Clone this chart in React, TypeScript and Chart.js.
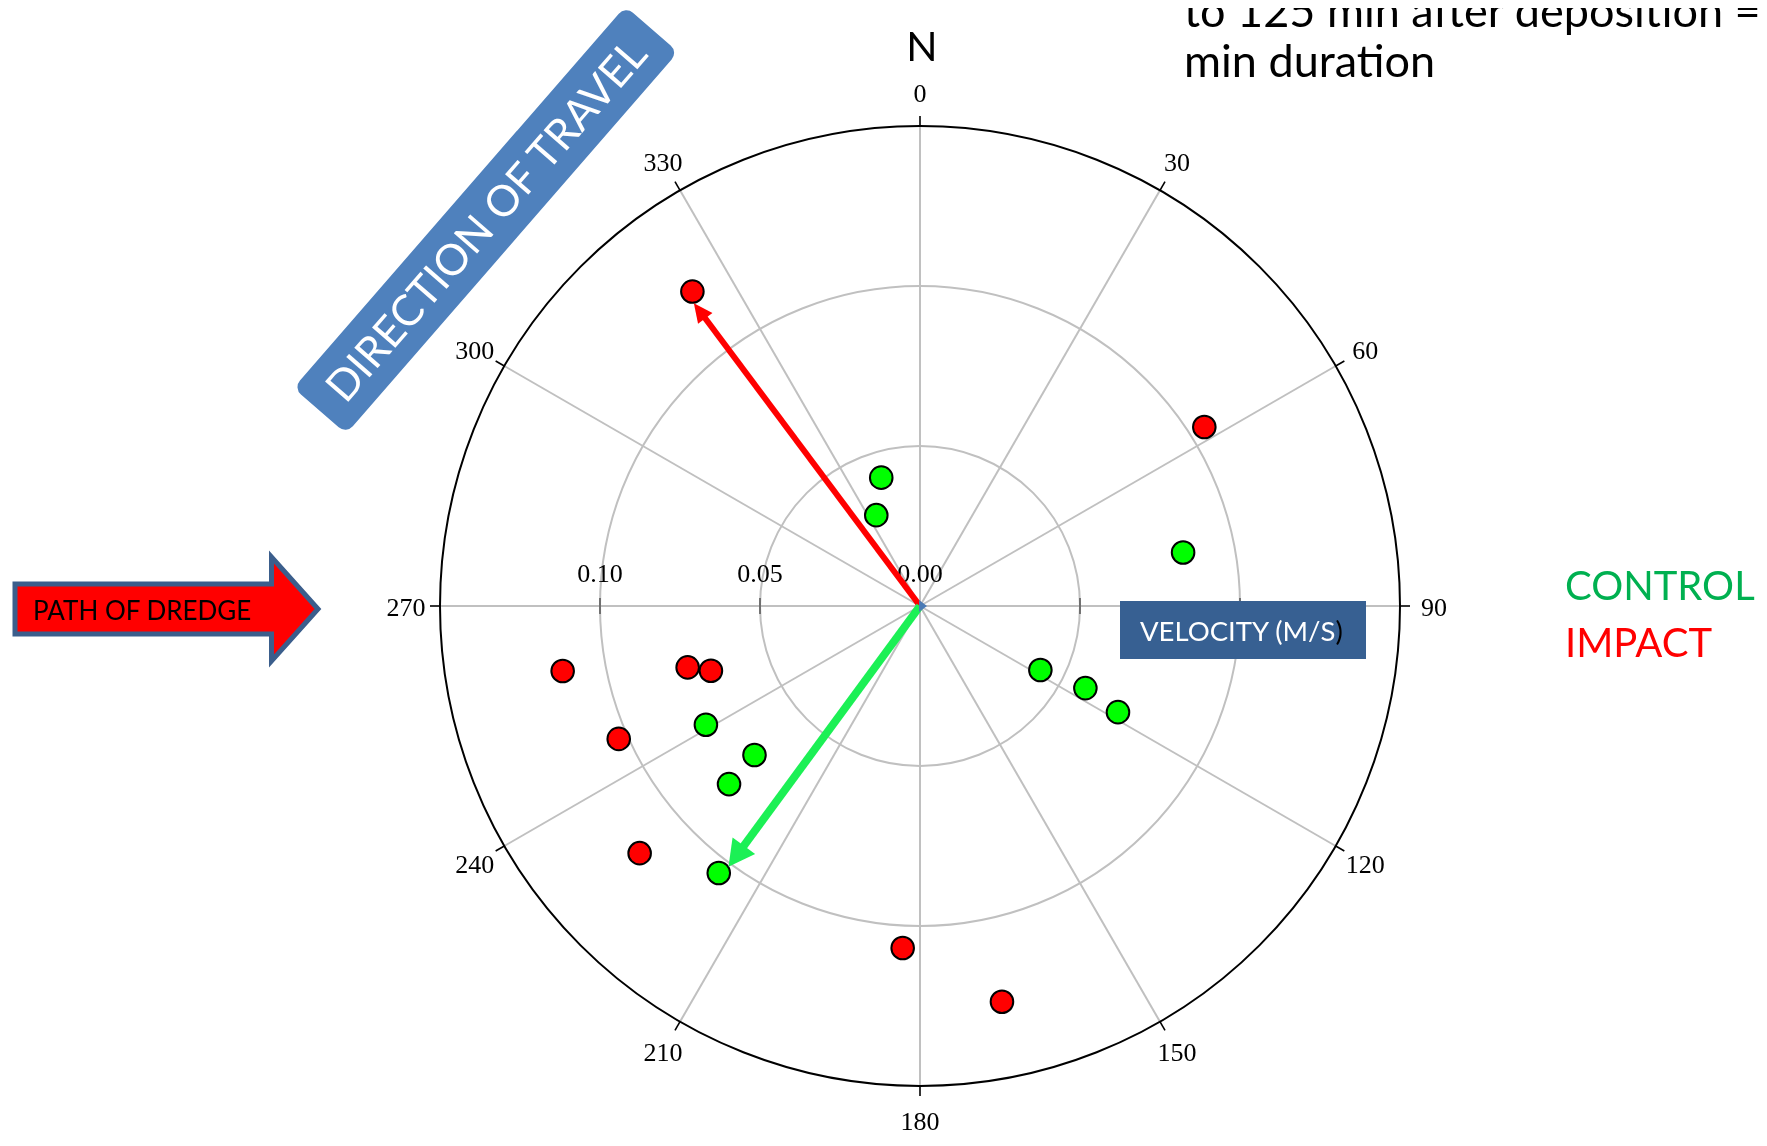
import React, { useEffect, useRef } from "react";
import { Chart, registerables } from "chart.js";

Chart.register(...registerables);

// ---- data (compass direction in degrees, speed in m/s) ----
const angleTicks = [0, 30, 60, 90, 120, 150, 180, 210, 240, 270, 300, 330];
const radialTicks = [0.0, 0.05, 0.1];
const radialRings = [0.05, 0.1];
const radialMax = 0.15;

const controlDirection = [241, 228, 227, 217, 78.5, 118, 116.4, 118.2, 343.2, 334.3];
const controlSpeed = [0.0765, 0.0696, 0.0816, 0.1045, 0.0839, 0.0426, 0.0577, 0.0702, 0.0419, 0.0315];

const impactDirection = [259.7, 255.2, 252.8, 246.2, 228.6, 57.8, 182.9, 168.3, 324.1];
const impactSpeed = [0.1135, 0.0751, 0.0684, 0.1029, 0.1168, 0.105, 0.107, 0.1263, 0.1213];

// mean vectors: [impact, control]
const meanLabels = ["IMPACT", "CONTROL"];
const meanDirection = [323.25, 216.3];
const meanSpeed = [0.1181, 0.1011];

// ---- layout constants ----
const W = 1751;
const H = 1130;
const CX = 912; // canvas px of origin
const CY = 598;
const PX_PER_UNIT = 3200;

const toXY = (dirs: number[], speeds: number[]) =>
  dirs.map((d, i) => {
    const r = (d * Math.PI) / 180;
    return { x: speeds[i] * Math.sin(r), y: speeds[i] * Math.cos(r) };
  });

const polarGrid = {
  id: "polarGrid",
  beforeDatasetsDraw(chart: any) {
    const { ctx } = chart;
    const xs = chart.scales.x;
    const ys = chart.scales.y;
    const cx = xs.getPixelForValue(0);
    const cy = ys.getPixelForValue(0);
    const rx = (v: number) => xs.getPixelForValue(v) - cx;
    const ry = (v: number) => cy - ys.getPixelForValue(v);
    const Rx = rx(radialMax);
    const Ry = ry(radialMax);
    ctx.save();
    // spokes
    ctx.strokeStyle = "#c0c0c0";
    ctx.lineWidth = 2;
    angleTicks.forEach((a) => {
      const t = (a * Math.PI) / 180;
      ctx.beginPath();
      ctx.moveTo(cx, cy);
      ctx.lineTo(cx + Rx * Math.sin(t), cy - Ry * Math.cos(t));
      ctx.stroke();
    });
    // rings
    radialRings.forEach((v) => {
      ctx.beginPath();
      ctx.ellipse(cx, cy, rx(v), ry(v), 0, 0, Math.PI * 2);
      ctx.stroke();
    });
    // outer circle
    ctx.strokeStyle = "#000";
    ctx.lineWidth = 2;
    ctx.beginPath();
    ctx.ellipse(cx, cy, Rx, Ry, 0, 0, Math.PI * 2);
    ctx.stroke();
    // theta ticks (outward)
    ctx.lineWidth = 1.6;
    angleTicks.forEach((a) => {
      const t = (a * Math.PI) / 180;
      ctx.beginPath();
      ctx.moveTo(cx + Rx * Math.sin(t), cy - Ry * Math.cos(t));
      ctx.lineTo(cx + (Rx + 10) * Math.sin(t), cy - (Ry + 10) * Math.cos(t));
      ctx.stroke();
    });
    // radial ticks on horizontal axis
    ctx.strokeStyle = "#555";
    ctx.lineWidth = 1.5;
    radialRings.forEach((v) => {
      [-1, 1].forEach((s) => {
        const x = cx + s * rx(v);
        ctx.beginPath();
        ctx.moveTo(x, cy - 8);
        ctx.lineTo(x, cy + 8);
        ctx.stroke();
      });
    });
    // labels
    ctx.fillStyle = "#000";
    ctx.font = '26px "Liberation Serif", "DejaVu Serif", serif';
    ctx.textAlign = "center";
    ctx.textBaseline = "middle";
    angleTicks.forEach((a) => {
      const t = (a * Math.PI) / 180;
      ctx.fillText(String(a), cx + (Rx + 34) * Math.sin(t), cy - (Ry + 34) * Math.cos(t) + 3);
    });
    radialTicks.forEach((v) => {
      ctx.fillText(v.toFixed(2), cx - rx(v), cy - 31);
    });
    ctx.restore();
  },
};

const arrowStyle = [
  { color: "#ff0000", width: 6, headLen: 19, headHalf: 9 },
  { color: "#1cf055", width: 8, headLen: 26, headHalf: 14 },
];

const meanArrows = {
  id: "meanArrows",
  afterDatasetsDraw(chart: any) {
    const { ctx } = chart;
    const xs = chart.scales.x;
    const ys = chart.scales.y;
    const cx = xs.getPixelForValue(0);
    const cy = ys.getPixelForValue(0);
    ctx.save();
    meanLabels.forEach((_, i) => {
      const t = (meanDirection[i] * Math.PI) / 180;
      const ax = xs.getPixelForValue(meanSpeed[i] * Math.sin(t));
      const ay = ys.getPixelForValue(meanSpeed[i] * Math.cos(t));
      const st = arrowStyle[i];
      const len = Math.hypot(ax - cx, ay - cy);
      const ux = (ax - cx) / len;
      const uy = (ay - cy) / len;
      const bx = ax - ux * st.headLen;
      const by = ay - uy * st.headLen;
      ctx.strokeStyle = st.color;
      ctx.fillStyle = st.color;
      ctx.lineWidth = st.width;
      ctx.lineCap = "butt";
      ctx.beginPath();
      ctx.moveTo(cx, cy);
      ctx.lineTo(bx + ux * 2, by + uy * 2);
      ctx.stroke();
      ctx.beginPath();
      ctx.moveTo(ax, ay);
      ctx.lineTo(bx - uy * st.headHalf, by + ux * st.headHalf);
      ctx.lineTo(bx + uy * st.headHalf, by - ux * st.headHalf);
      ctx.closePath();
      ctx.fill();
    });
    // tiny zero-length quiver marker at origin
    ctx.fillStyle = "#4a7ab5";
    ctx.beginPath();
    ctx.moveTo(cx + 7, cy);
    ctx.lineTo(cx - 1, cy - 6);
    ctx.lineTo(cx - 1, cy + 6);
    ctx.closePath();
    ctx.fill();
    ctx.restore();
  },
};

export default function App() {
  const ref = useRef<HTMLCanvasElement | null>(null);

  useEffect(() => {
    if (!ref.current) return;
    const chart = new Chart(ref.current, {
      type: "scatter",
      data: {
        datasets: [
          {
            label: "CONTROL",
            data: toXY(controlDirection, controlSpeed),
            pointRadius: 11.3,
            pointBackgroundColor: "#00ff00",
            pointBorderColor: "#000000",
            pointBorderWidth: 2,
          },
          {
            label: "IMPACT",
            data: toXY(impactDirection, impactSpeed),
            pointRadius: 11.3,
            pointBackgroundColor: "#ff0000",
            pointBorderColor: "#000000",
            pointBorderWidth: 2,
          },
        ],
      },
      options: {
        animation: false,
        responsive: false,
        maintainAspectRatio: false,
        events: [],
        layout: { padding: 0, autoPadding: false },
        scales: {
          x: { type: "linear", min: -CX / PX_PER_UNIT, max: (W - CX) / PX_PER_UNIT, display: false },
          y: { type: "linear", min: -(H - CY) / PX_PER_UNIT, max: CY / PX_PER_UNIT, display: false },
        },
        plugins: { legend: { display: false }, tooltip: { enabled: false } },
      },
      plugins: [polarGrid, meanArrows],
    } as any);
    return () => chart.destroy();
  }, []);

  const sans = 'Lato, "Open Sans", "DejaVu Sans", sans-serif';

  return (
    <div style={{ position: "relative", width: W, height: H, overflow: "hidden", background: "#fff" }}>
      <canvas ref={ref} width={W} height={H} style={{ display: "block", width: W, height: H }} />
      <svg
        width={W}
        height={H}
        style={{ position: "absolute", left: 0, top: 0, pointerEvents: "none" }}
      >
        <g transform="translate(-8,-8)" fontFamily={sans}>
          <text x={1184} y={27} fontSize={45} fill="#000">
            to 125 min after deposition =
          </text>
          <text x={1184} y={77} fontSize={45} fill="#000">
            min duration
          </text>
          <text x={922} y={61} fontSize={41} textAnchor="middle" fill="#000">
            N
          </text>
          <g transform="translate(485.8,220) rotate(-49)">
            <rect x={-253} y={-35} width={506} height={70} rx={10} fill="#4f81bd" />
            <text x={0} y={15.5} textAnchor="middle" fill="#ffffff" fontSize={43}>
              DIRECTION OF TRAVEL
            </text>
          </g>
          <path
            d="M15 584 H271.5 V557 L318 609 L271.5 661 V634 H15 Z"
            fill="#ff0000"
            stroke="#3b5e8c"
            strokeWidth={5}
          />
          <text x={33} y={620} fontSize={26} fill="#000">
            PATH OF DREDGE
          </text>
          <rect x={1120} y={601} width={246} height={58} fill="#376092" />
          <text x={1140} y={641} fontSize={27.5} fill="#ffffff">
            VELOCITY (M/S<tspan fill="#000">)</tspan>
          </text>
          <text x={1565} y={600} fontSize={40} fill="#00b050">
            CONTROL
          </text>
          <text x={1565} y={657} fontSize={40} fill="#ff0000">
            IMPACT
          </text>
        </g>
      </svg>
    </div>
  );
}
